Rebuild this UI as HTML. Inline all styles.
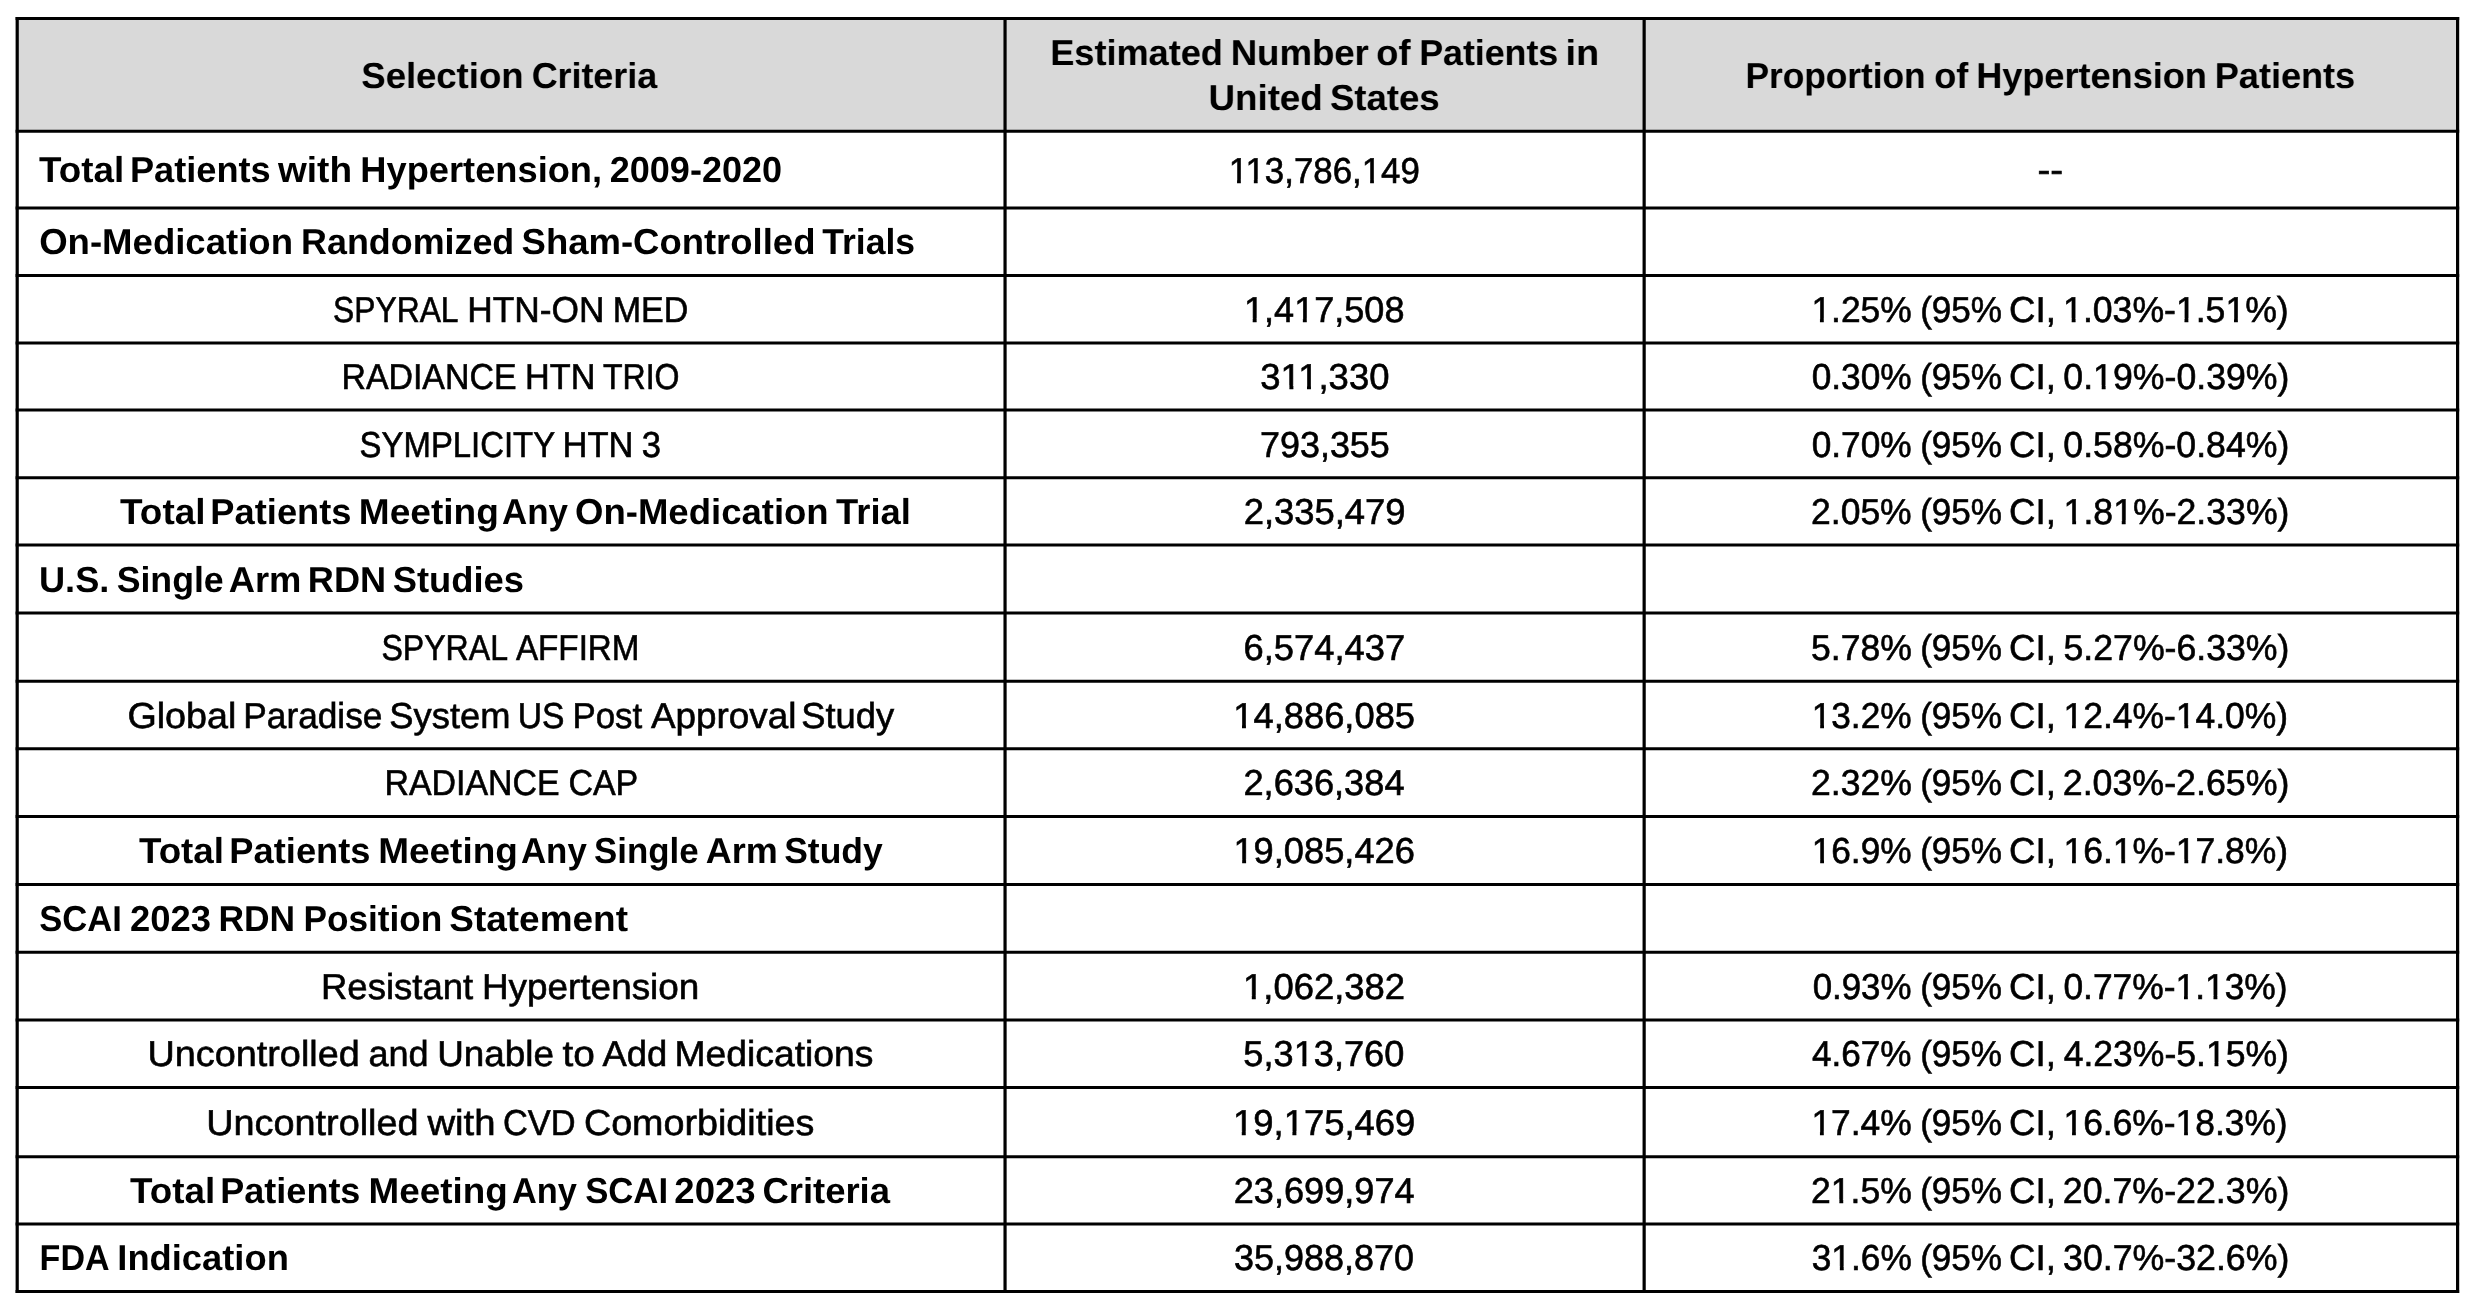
<!DOCTYPE html>
<html><head><meta charset="utf-8"><title>Selection Criteria Table</title><style>
html,body{margin:0;padding:0;background:#fff;}
body{width:2478px;height:1311px;overflow:hidden;position:relative;}
#page{position:absolute;left:0;top:0;width:2478px;height:1311px;filter:grayscale(1);}
svg{position:absolute;left:0;top:0;display:block;}
.t{position:absolute;left:0;top:0;white-space:nowrap;font-family:"Liberation Sans",sans-serif;font-size:36px;line-height:40px;color:#000;text-rendering:geometricPrecision;transform-origin:0 0;}
.r{-webkit-text-stroke:0.6px #000;}
.b{font-weight:bold;}
.o{clip-path:polygon(-0.3em -0.5em,1.3em -0.5em,1.3em calc(0.8303em - 0.5px),calc(0.3398em + 0.35px) calc(0.8303em - 0.5px),calc(0.3398em + 0.35px) 1.5em,calc(0.2515em - 0.35px) 1.5em,calc(0.2515em - 0.35px) calc(0.8303em - 0.5px),-0.3em calc(0.8303em - 0.5px));}
</style></head><body>
<div id="page">
<svg width="2478" height="1311" viewBox="0 0 2478 1311">
<rect x="17.2" y="18.6" width="2440.40" height="112.75" fill="#d9d9d9"/>
<g stroke="#000" stroke-width="3.0" fill="none">
<line x1="15.60" y1="18.6" x2="2459.20" y2="18.6"/>
<line x1="15.60" y1="131.35" x2="2459.20" y2="131.35"/>
<line x1="15.60" y1="208.0" x2="2459.20" y2="208.0"/>
<line x1="15.60" y1="275.4" x2="2459.20" y2="275.4"/>
<line x1="15.60" y1="343.0" x2="2459.20" y2="343.0"/>
<line x1="15.60" y1="410.0" x2="2459.20" y2="410.0"/>
<line x1="15.60" y1="477.7" x2="2459.20" y2="477.7"/>
<line x1="15.60" y1="545.0" x2="2459.20" y2="545.0"/>
<line x1="15.60" y1="612.9" x2="2459.20" y2="612.9"/>
<line x1="15.60" y1="681.2" x2="2459.20" y2="681.2"/>
<line x1="15.60" y1="748.75" x2="2459.20" y2="748.75"/>
<line x1="15.60" y1="816.5" x2="2459.20" y2="816.5"/>
<line x1="15.60" y1="884.45" x2="2459.20" y2="884.45"/>
<line x1="15.60" y1="952.2" x2="2459.20" y2="952.2"/>
<line x1="15.60" y1="1019.9" x2="2459.20" y2="1019.9"/>
<line x1="15.60" y1="1087.6" x2="2459.20" y2="1087.6"/>
<line x1="15.60" y1="1156.8" x2="2459.20" y2="1156.8"/>
<line x1="15.60" y1="1224.1" x2="2459.20" y2="1224.1"/>
<line x1="15.60" y1="1291.45" x2="2459.20" y2="1291.45"/>
<line x1="17.2" y1="17.10" x2="17.2" y2="1292.95" stroke-width="3.2"/>
<line x1="1005.05" y1="17.10" x2="1005.05" y2="1292.95" stroke-width="3.2"/>
<line x1="1644.15" y1="17.10" x2="1644.15" y2="1292.95" stroke-width="3.2"/>
<line x1="2457.6" y1="17.10" x2="2457.6" y2="1292.95" stroke-width="3.2"/>
</g>
</svg>
<div class="t b" style="transform:translate(361.30px,56px) scaleX(1.0131)">Selection</div>
<div class="t b" style="transform:translate(531.64px,56px) scaleX(0.9949)">Criteria</div>
<div class="t b" style="transform:translate(1050.21px,33px) scaleX(1.0033)">Estimated</div>
<div class="t b" style="transform:translate(1230.67px,33px) scaleX(1.0158)">Number</div>
<div class="t b" style="transform:translate(1376.35px,33px) scaleX(1.0023)">of</div>
<div class="t b" style="transform:translate(1419.24px,33px) scaleX(0.9919)">Patients</div>
<div class="t b" style="transform:translate(1565.58px,33px) scaleX(1.0509)">in</div>
<div class="t b" style="transform:translate(1208.59px,78px) scaleX(1.0184)">United</div>
<div class="t b" style="transform:translate(1329.99px,78px) scaleX(1.0147)">States</div>
<div class="t b" style="transform:translate(1745.54px,56px) scaleX(0.9788)">Proportion</div>
<div class="t b" style="transform:translate(1934.22px,56px) scaleX(0.9987)">of</div>
<div class="t b" style="transform:translate(1976.15px,56px) scaleX(1.0028)">Hypertension</div>
<div class="t b" style="transform:translate(2214.80px,56px) scaleX(1.0024)">Patients</div>
<div class="t b" style="transform:translate(39.10px,150px) scaleX(1.0218)">Total</div>
<div class="t b" style="transform:translate(129.95px,150px) scaleX(1.0049)">Patients</div>
<div class="t b" style="transform:translate(278.01px,150px) scaleX(1.0282)">with</div>
<div class="t b" style="transform:translate(360.30px,150px) scaleX(1.0073)">Hypertension,</div>
<div class="t b" style="transform:translate(609.75px,150px) scaleX(1.0006)">2009-2020</div>
<div class="t r" style="transform:translate(1228.64px,151px) scaleX(0.9680)"><span class="o">1</span><span class="o">1</span>3,786,<span class="o">1</span>49</div>
<div class="t r" style="transform:translate(2037.38px,150px) scaleX(1.0693)">--</div>
<div class="t b" style="transform:translate(39.15px,222px) scaleX(1.0155)">On-Medication</div>
<div class="t b" style="transform:translate(301.07px,222px) scaleX(0.9962)">Randomized</div>
<div class="t b" style="transform:translate(521.59px,222px) scaleX(1.0132)">Sham-Controlled</div>
<div class="t b" style="transform:translate(822.30px,222px) scaleX(0.9867)">Trials</div>
<div class="t r" style="transform:translate(333.12px,290px) scaleX(0.8825)">SPYRAL</div>
<div class="t r" style="transform:translate(467.25px,290px) scaleX(0.9804)">HTN-ON</div>
<div class="t r" style="transform:translate(612.78px,290px) scaleX(0.9450)">MED</div>
<div class="t r" style="transform:translate(1244.00px,290px) scaleX(1.0018)"><span class="o">1</span>,4<span class="o">1</span>7,508</div>
<div class="t r" style="transform:translate(1811.40px,290px) scaleX(0.9829)"><span class="o">1</span>.25%</div>
<div class="t r" style="transform:translate(1920.14px,290px) scaleX(0.9747)">(95%</div>
<div class="t r" style="transform:translate(2009.12px,290px) scaleX(1.0163)">CI,</div>
<div class="t r" style="transform:translate(2063.10px,290px) scaleX(0.9888)"><span class="o">1</span>.03%-<span class="o">1</span>.5<span class="o">1</span>%)</div>
<div class="t r" style="transform:translate(341.41px,357px) scaleX(0.9411)">RADIANCE</div>
<div class="t r" style="transform:translate(525.10px,357px) scaleX(0.9502)">HTN</div>
<div class="t r" style="transform:translate(602.93px,357px) scaleX(0.8911)">TRIO</div>
<div class="t r" style="transform:translate(1260.32px,357px) scaleX(1.0129)">3<span class="o">1</span><span class="o">1</span>,330</div>
<div class="t r" style="transform:translate(1811.70px,357px) scaleX(0.9794)">0.30%</div>
<div class="t r" style="transform:translate(1920.14px,357px) scaleX(0.9747)">(95%</div>
<div class="t r" style="transform:translate(2009.12px,357px) scaleX(1.0163)">CI,</div>
<div class="t r" style="transform:translate(2063.36px,357px) scaleX(0.9907)">0.<span class="o">1</span>9%-0.39%)</div>
<div class="t r" style="transform:translate(359.62px,425px) scaleX(0.9134)">SYMPLICITY</div>
<div class="t r" style="transform:translate(562.48px,425px) scaleX(0.9589)">HTN</div>
<div class="t r" style="transform:translate(641.76px,425px) scaleX(0.9614)">3</div>
<div class="t r" style="transform:translate(1260.00px,425px) scaleX(0.9974)">793,355</div>
<div class="t r" style="transform:translate(1811.70px,425px) scaleX(0.9794)">0.70%</div>
<div class="t r" style="transform:translate(1920.14px,425px) scaleX(0.9747)">(95%</div>
<div class="t r" style="transform:translate(2009.12px,425px) scaleX(1.0163)">CI,</div>
<div class="t r" style="transform:translate(2063.36px,425px) scaleX(0.9907)">0.58%-0.84%)</div>
<div class="t b" style="transform:translate(120.00px,492px) scaleX(1.0266)">Total</div>
<div class="t b" style="transform:translate(210.37px,492px) scaleX(1.0073)">Patients</div>
<div class="t b" style="transform:translate(358.79px,492px) scaleX(1.0295)">Meeting</div>
<div class="t b" style="transform:translate(501.99px,492px) scaleX(0.9707)">Any</div>
<div class="t b" style="transform:translate(575.10px,492px) scaleX(1.0142)">On-Medication</div>
<div class="t b" style="transform:translate(836.05px,492px) scaleX(1.0102)">Trial</div>
<div class="t r" style="transform:translate(1243.65px,492px) scaleX(1.0113)">2,335,479</div>
<div class="t r" style="transform:translate(1811.09px,492px) scaleX(0.9851)">2.05%</div>
<div class="t r" style="transform:translate(1920.14px,492px) scaleX(0.9747)">(95%</div>
<div class="t r" style="transform:translate(2009.12px,492px) scaleX(1.0163)">CI,</div>
<div class="t r" style="transform:translate(2063.62px,492px) scaleX(0.9897)"><span class="o">1</span>.8<span class="o">1</span>%-2.33%)</div>
<div class="t b" style="transform:translate(38.99px,560px) scaleX(1.0047)">U.S.</div>
<div class="t b" style="transform:translate(116.65px,560px) scaleX(0.9912)">Single</div>
<div class="t b" style="transform:translate(228.71px,560px) scaleX(1.0100)">Arm</div>
<div class="t b" style="transform:translate(307.81px,560px) scaleX(1.0043)">RDN</div>
<div class="t b" style="transform:translate(392.69px,560px) scaleX(1.0101)">Studies</div>
<div class="t r" style="transform:translate(381.46px,628px) scaleX(0.8906)">SPYRAL</div>
<div class="t r" style="transform:translate(515.96px,628px) scaleX(0.9218)">AFFIRM</div>
<div class="t r" style="transform:translate(1243.56px,628px) scaleX(1.0092)">6,574,437</div>
<div class="t r" style="transform:translate(1811.01px,628px) scaleX(0.9873)">5.78%</div>
<div class="t r" style="transform:translate(1920.14px,628px) scaleX(0.9747)">(95%</div>
<div class="t r" style="transform:translate(2009.12px,628px) scaleX(1.0163)">CI,</div>
<div class="t r" style="transform:translate(2063.55px,628px) scaleX(0.9899)">5.27%-6.33%)</div>
<div class="t r" style="transform:translate(127.38px,696px) scaleX(1.0472)">Global</div>
<div class="t r" style="transform:translate(243.30px,696px) scaleX(0.9791)">Paradise</div>
<div class="t r" style="transform:translate(389.35px,696px) scaleX(1.0087)">System</div>
<div class="t r" style="transform:translate(517.79px,696px) scaleX(0.9346)">US</div>
<div class="t r" style="transform:translate(572.51px,696px) scaleX(0.9673)">Post</div>
<div class="t r" style="transform:translate(650.99px,696px) scaleX(1.0230)">Approval</div>
<div class="t r" style="transform:translate(801.19px,696px) scaleX(1.0086)">Study</div>
<div class="t r" style="transform:translate(1233.23px,696px) scaleX(1.0091)"><span class="o">1</span>4,886,085</div>
<div class="t r" style="transform:translate(1811.67px,696px) scaleX(0.9787)"><span class="o">1</span>3.2%</div>
<div class="t r" style="transform:translate(1920.14px,696px) scaleX(0.9747)">(95%</div>
<div class="t r" style="transform:translate(2009.12px,696px) scaleX(1.0163)">CI,</div>
<div class="t r" style="transform:translate(2063.45px,696px) scaleX(0.9849)"><span class="o">1</span>2.4%-<span class="o">1</span>4.0%)</div>
<div class="t r" style="transform:translate(384.44px,763px) scaleX(0.9414)">RADIANCE</div>
<div class="t r" style="transform:translate(568.41px,763px) scaleX(0.9441)">CAP</div>
<div class="t r" style="transform:translate(1243.46px,763px) scaleX(1.0056)">2,636,384</div>
<div class="t r" style="transform:translate(1811.01px,763px) scaleX(0.9873)">2.32%</div>
<div class="t r" style="transform:translate(1920.14px,763px) scaleX(0.9747)">(95%</div>
<div class="t r" style="transform:translate(2009.12px,763px) scaleX(1.0163)">CI,</div>
<div class="t r" style="transform:translate(2062.77px,763px) scaleX(0.9932)">2.03%-2.65%)</div>
<div class="t b" style="transform:translate(138.94px,831px) scaleX(1.0210)">Total</div>
<div class="t b" style="transform:translate(229.37px,831px) scaleX(1.0073)">Patients</div>
<div class="t b" style="transform:translate(378.22px,831px) scaleX(1.0261)">Meeting</div>
<div class="t b" style="transform:translate(520.95px,831px) scaleX(0.9676)">Any</div>
<div class="t b" style="transform:translate(594.10px,831px) scaleX(0.9682)">Single</div>
<div class="t b" style="transform:translate(705.63px,831px) scaleX(1.0001)">Arm</div>
<div class="t b" style="transform:translate(784.19px,831px) scaleX(0.9851)">Study</div>
<div class="t r" style="transform:translate(1233.41px,831px) scaleX(1.0072)"><span class="o">1</span>9,085,426</div>
<div class="t r" style="transform:translate(1811.67px,831px) scaleX(0.9787)"><span class="o">1</span>6.9%</div>
<div class="t r" style="transform:translate(1920.14px,831px) scaleX(0.9747)">(95%</div>
<div class="t r" style="transform:translate(2009.12px,831px) scaleX(1.0163)">CI,</div>
<div class="t r" style="transform:translate(2063.45px,831px) scaleX(0.9849)"><span class="o">1</span>6.<span class="o">1</span>%-<span class="o">1</span>7.8%)</div>
<div class="t b" style="transform:translate(39.22px,899px) scaleX(0.9612)">SCAI</div>
<div class="t b" style="transform:translate(129.99px,899px) scaleX(1.0106)">2023</div>
<div class="t b" style="transform:translate(218.49px,899px) scaleX(0.9830)">RDN</div>
<div class="t b" style="transform:translate(303.43px,899px) scaleX(0.9781)">Position</div>
<div class="t b" style="transform:translate(449.27px,899px) scaleX(1.0266)">Statement</div>
<div class="t r" style="transform:translate(320.92px,967px) scaleX(1.0150)">Resistant</div>
<div class="t r" style="transform:translate(481.96px,967px) scaleX(1.0248)">Hypertension</div>
<div class="t r" style="transform:translate(1243.02px,967px) scaleX(1.0114)"><span class="o">1</span>,062,382</div>
<div class="t r" style="transform:translate(1812.65px,967px) scaleX(0.9686)">0.93%</div>
<div class="t r" style="transform:translate(1920.14px,967px) scaleX(0.9747)">(95%</div>
<div class="t r" style="transform:translate(2009.12px,967px) scaleX(1.0163)">CI,</div>
<div class="t r" style="transform:translate(2063.41px,967px) scaleX(0.9822)">0.77%-<span class="o">1</span>.<span class="o">1</span>3%)</div>
<div class="t r" style="transform:translate(147.48px,1034px) scaleX(1.0502)">Uncontrolled</div>
<div class="t r" style="transform:translate(368.41px,1034px) scaleX(1.0020)">and</div>
<div class="t r" style="transform:translate(437.16px,1034px) scaleX(1.0236)">Unable</div>
<div class="t r" style="transform:translate(562.47px,1034px) scaleX(1.0758)">to</div>
<div class="t r" style="transform:translate(602.48px,1034px) scaleX(1.0111)">Add</div>
<div class="t r" style="transform:translate(674.47px,1034px) scaleX(1.0357)">Medications</div>
<div class="t r" style="transform:translate(1243.37px,1034px) scaleX(1.0050)">5,3<span class="o">1</span>3,760</div>
<div class="t r" style="transform:translate(1812.00px,1034px) scaleX(0.9750)">4.67%</div>
<div class="t r" style="transform:translate(1920.14px,1034px) scaleX(0.9747)">(95%</div>
<div class="t r" style="transform:translate(2009.12px,1034px) scaleX(1.0163)">CI,</div>
<div class="t r" style="transform:translate(2063.69px,1034px) scaleX(0.9874)">4.23%-5.<span class="o">1</span>5%)</div>
<div class="t r" style="transform:translate(206.18px,1103px) scaleX(1.0510)">Uncontrolled</div>
<div class="t r" style="transform:translate(427.39px,1103px) scaleX(1.0632)">with</div>
<div class="t r" style="transform:translate(502.94px,1103px) scaleX(0.9554)">CVD</div>
<div class="t r" style="transform:translate(583.91px,1103px) scaleX(1.0469)">Comorbidities</div>
<div class="t r" style="transform:translate(1232.98px,1103px) scaleX(1.0118)"><span class="o">1</span>9,<span class="o">1</span>75,469</div>
<div class="t r" style="transform:translate(1811.40px,1103px) scaleX(0.9829)"><span class="o">1</span>7.4%</div>
<div class="t r" style="transform:translate(1920.14px,1103px) scaleX(0.9747)">(95%</div>
<div class="t r" style="transform:translate(2009.12px,1103px) scaleX(1.0163)">CI,</div>
<div class="t r" style="transform:translate(2063.49px,1103px) scaleX(0.9823)"><span class="o">1</span>6.6%-<span class="o">1</span>8.3%)</div>
<div class="t b" style="transform:translate(130.09px,1171px) scaleX(1.0225)">Total</div>
<div class="t b" style="transform:translate(220.30px,1171px) scaleX(1.0004)">Patients</div>
<div class="t b" style="transform:translate(368.60px,1171px) scaleX(1.0229)">Meeting</div>
<div class="t b" style="transform:translate(512.02px,1171px) scaleX(0.9549)">Any</div>
<div class="t b" style="transform:translate(585.13px,1171px) scaleX(0.9647)">SCAI</div>
<div class="t b" style="transform:translate(674.34px,1171px) scaleX(1.0151)">2023</div>
<div class="t b" style="transform:translate(762.40px,1171px) scaleX(1.0123)">Criteria</div>
<div class="t r" style="transform:translate(1233.69px,1171px) scaleX(1.0040)">23,699,974</div>
<div class="t r" style="transform:translate(1811.01px,1171px) scaleX(0.9873)">2<span class="o">1</span>.5%</div>
<div class="t r" style="transform:translate(1920.14px,1171px) scaleX(0.9747)">(95%</div>
<div class="t r" style="transform:translate(2009.12px,1171px) scaleX(1.0163)">CI,</div>
<div class="t r" style="transform:translate(2062.77px,1171px) scaleX(0.9932)">20.7%-22.3%)</div>
<div class="t b" style="transform:translate(39.61px,1238px) scaleX(0.9456)">FDA</div>
<div class="t b" style="transform:translate(117.29px,1238px) scaleX(1.0091)">Indication</div>
<div class="t r" style="transform:translate(1233.96px,1238px) scaleX(0.9994)">35,988,870</div>
<div class="t r" style="transform:translate(1811.73px,1238px) scaleX(0.9798)">3<span class="o">1</span>.6%</div>
<div class="t r" style="transform:translate(1920.14px,1238px) scaleX(0.9747)">(95%</div>
<div class="t r" style="transform:translate(2009.12px,1238px) scaleX(1.0163)">CI,</div>
<div class="t r" style="transform:translate(2063.03px,1238px) scaleX(0.9922)">30.7%-32.6%)</div>
</div>
</body></html>
